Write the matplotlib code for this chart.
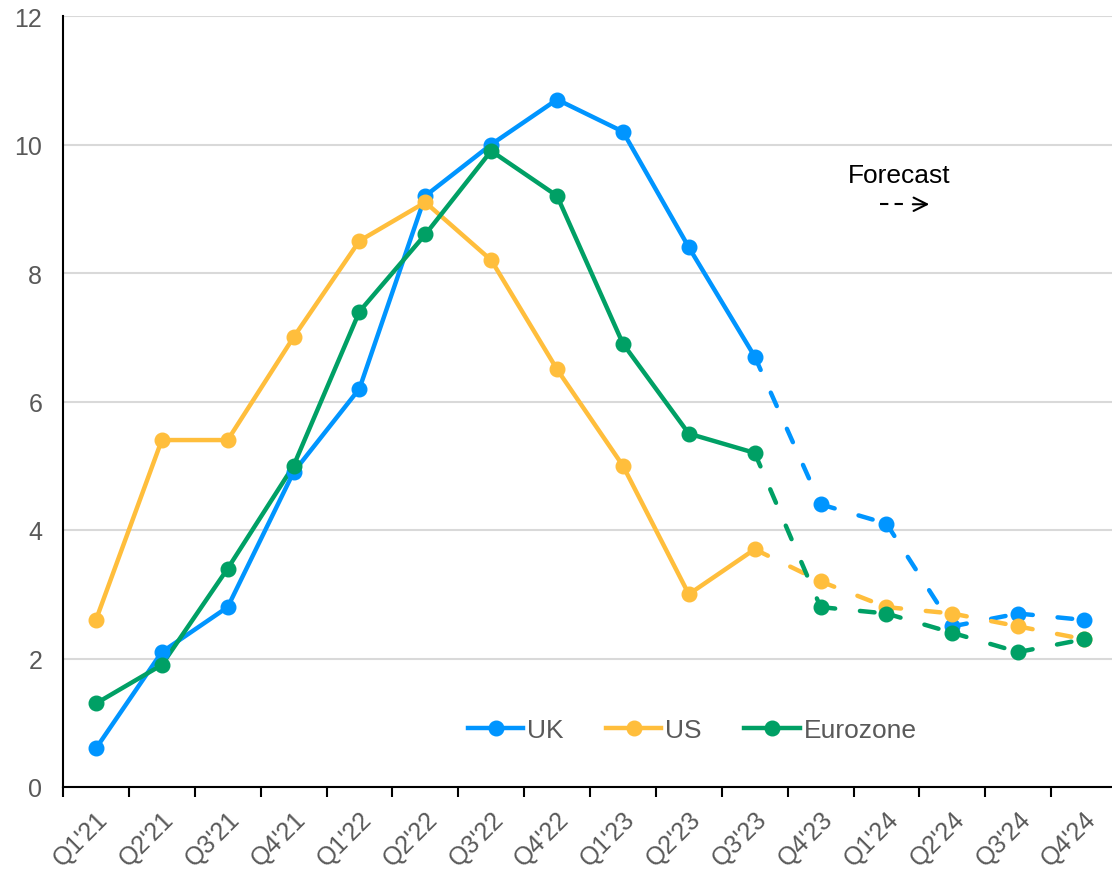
import matplotlib
matplotlib.use("Agg")
import matplotlib.pyplot as plt
from matplotlib.lines import Line2D

plt.rcParams['font.family'] = ['Liberation Sans', 'DejaVu Sans']

quarters = ["Q1'21", "Q2'21", "Q3'21", "Q4'21", "Q1'22", "Q2'22", "Q3'22", "Q4'22",
            "Q1'23", "Q2'23", "Q3'23", "Q4'23", "Q1'24", "Q2'24", "Q3'24", "Q4'24"]
uk = [0.6, 2.1, 2.8, 4.9, 6.2, 9.2, 10.0, 10.7, 10.2, 8.4, 6.7, 4.4, 4.1, 2.5, 2.7, 2.6]
us = [2.6, 5.4, 5.4, 7.0, 8.5, 9.1, 8.2, 6.5, 5.0, 3.0, 3.7, 3.2, 2.8, 2.7, 2.5, 2.3]
eurozone = [1.3, 1.9, 3.4, 5.0, 7.4, 8.6, 9.9, 9.2, 6.9, 5.5, 5.2, 2.8, 2.7, 2.4, 2.1, 2.3]
last_actual = 10  # index of Q3'23; later points are forecasts

series = [("UK", uk, "#0095FF"), ("US", us, "#FFBE3C"), ("Eurozone", eurozone, "#00A065")]

fig = plt.figure(figsize=(11.12, 8.70), dpi=100)
ax = fig.add_axes([63 / 1112, 82 / 870, 1054 / 1112, 771 / 870])

LW = 3.2
MS = 10.5
FS_TICK = 18
FS_TEXT = 19
xs = list(range(len(quarters)))

for name, vals, color in series:
    # actual values
    ax.plot(xs[:last_actual + 1], vals[:last_actual + 1], color=color, lw=LW,
            solid_capstyle='round', solid_joinstyle='round', zorder=3)
    # forecast segments, dashed pattern restarting at each point
    for i in range(last_actual, len(vals) - 1):
        ax.plot([xs[i], xs[i + 1]], [vals[i], vals[i + 1]], color=color, lw=LW,
                linestyle=(0, (3.3, 5.6)), dash_capstyle='round', zorder=3)
    ax.plot(xs, vals, linestyle='none', marker='o', markersize=MS, color=color, zorder=4)

ax.set_xlim(-0.5, len(quarters) - 0.5)
ax.set_ylim(0, 12)
ax.set_yticks(range(0, 13, 2))
ax.yaxis.grid(True, color='#D9D9D9', lw=1.5)
ax.set_axisbelow(True)

ax.set_xticks(xs)
ax.set_xticklabels(quarters, rotation=45, ha='right', rotation_mode='anchor')
ax.set_xticks([x + 0.5 for x in xs[:-1]] + [-0.5], minor=True)
ax.tick_params(axis='x', which='major', length=0, pad=14, labelsize=FS_TICK, labelcolor='#595959')
ax.tick_params(axis='x', which='minor', length=7, width=1.5, color='black', direction='out')
ax.tick_params(axis='y', length=0, pad=15, labelsize=FS_TICK, labelcolor='#595959')

for side in ('top', 'right'):
    ax.spines[side].set_visible(False)
for side in ('left', 'bottom'):
    ax.spines[side].set_linewidth(1.5)
    ax.spines[side].set_color('black')

# forecast marker
ax.text(12.2, 9.53, "Forecast", ha='center', va='center', fontsize=FS_TEXT, color='black')
ax.plot([11.9, 12.35], [9.07, 9.07], color='black', lw=1.5, linestyle=(0, (4, 3)))
ax.annotate('', xy=(12.65, 9.07), xytext=(12.4, 9.07),
            arrowprops=dict(arrowstyle='->', lw=1.5, color='black',
                            mutation_scale=24, shrinkA=0, shrinkB=0))

handles = [Line2D([0], [0], color=c, lw=LW, marker='o', markersize=MS) for _, _, c in series]
leg = ax.legend(handles, [n for n, _, _ in series], loc='center', bbox_to_anchor=(0.597, 0.074),
                ncol=3, frameon=False, fontsize=FS_TEXT, handlelength=2.1, handletextpad=0.15,
                columnspacing=1.6)
for t in leg.get_texts():
    t.set_color('#595959')

fig.savefig("out.png", dpi=100)
